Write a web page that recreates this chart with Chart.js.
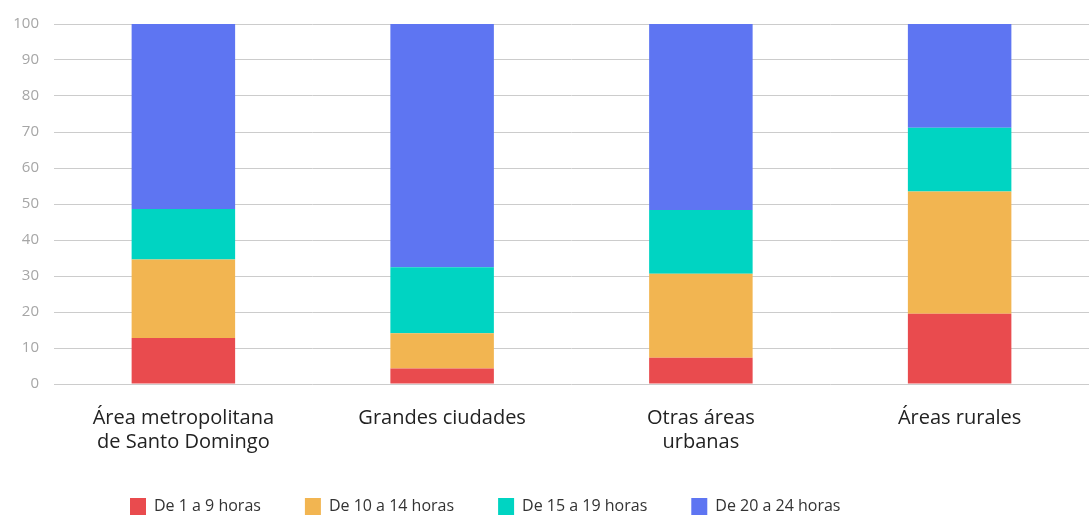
<!DOCTYPE html>
<html>
<head>
<meta charset="utf-8">
<script src="https://cdn.jsdelivr.net/npm/chart.js@4"></script>
<style>
  html, body { margin: 0; padding: 0; background: #fff; }
  #wrap { width: 1089px; height: 516px; position: relative; }
</style>
</head>
<body>
<div id="wrap"><canvas id="horasChart"></canvas></div>
<script>
const categories = [
  ["Área metropolitana", "de Santo Domingo"],
  "Grandes ciudades",
  ["Otras áreas", "urbanas"],
  "Áreas rurales",
];
const seriesNames = ["De 1 a 9 horas", "De 10 a 14 horas", "De 15 a 19 horas", "De 20 a 24 horas"];
const horas1a9 = [12.8, 4.3, 7.3, 19.5];
const horas10a14 = [21.8, 9.8, 23.3, 34.0];
const horas15a19 = [14.0, 18.3, 17.7, 17.7];
const horas20a24 = [51.4, 67.6, 51.7, 28.8];
const yTicks = [0, 10, 20, 30, 40, 50, 60, 70, 80, 90, 100];

const colors = ["#e94b4e", "#f2b551", "#00d4c2", "#5e75f2"];
const values = [horas1a9, horas10a14, horas15a19, horas20a24];

// the legend in the original sits left of centre
const legendShift = {
  id: "legendShift",
  afterLayout: function (chart) {
    chart.legend.left += 86;
    chart.legend.right += 86;
  },
};

const ctx = document.getElementById("horasChart").getContext("2d");
new Chart(ctx, {
  type: "bar",
  data: {
    labels: categories,
    datasets: seriesNames.map(function (name, i) {
      return {
        label: name,
        data: values[i],
        backgroundColor: colors[i],
        borderWidth: 0,
        barPercentage: 0.4,
        categoryPercentage: 1,
      };
    }),
  },
  plugins: [legendShift],
  options: {
    responsive: true,
    maintainAspectRatio: false,
    animation: false,
    layout: {
      padding: { top: 13, left: 0, right: 0, bottom: -9 },
    },
    plugins: {
      legend: {
        position: "bottom",
        align: "start",
        labels: {
          boxWidth: 16,
          boxHeight: 17,
          padding: 44,
          color: "#333",
          font: { family: "Open Sans", size: 16 },
        },
      },
      tooltip: { enabled: false },
    },
    scales: {
      x: {
        stacked: true,
        afterFit: function (scale) {
          scale.height = 70;
        },
        grid: { display: false, drawTicks: false },
        border: { display: false },
        ticks: {
          color: "#222",
          padding: 23,
          font: { family: "Open Sans", size: 20, lineHeight: 1.17 },
          maxRotation: 0,
          autoSkip: false,
        },
      },
      y: {
        stacked: true,
        min: 0,
        max: 100,
        afterBuildTicks: function (axis) {
          axis.ticks = yTicks.map(function (v) { return { value: v }; });
        },
        afterFit: function (scale) {
          scale.width = 54;
        },
        grid: { color: "#cccccc", drawTicks: false, lineWidth: 1 },
        border: { display: false },
        ticks: {
          color: "#a6a6a6",
          padding: 15,
          font: { family: "Open Sans", size: 15 },
        },
      },
    },
  },
});
</script>
</body>
</html>
